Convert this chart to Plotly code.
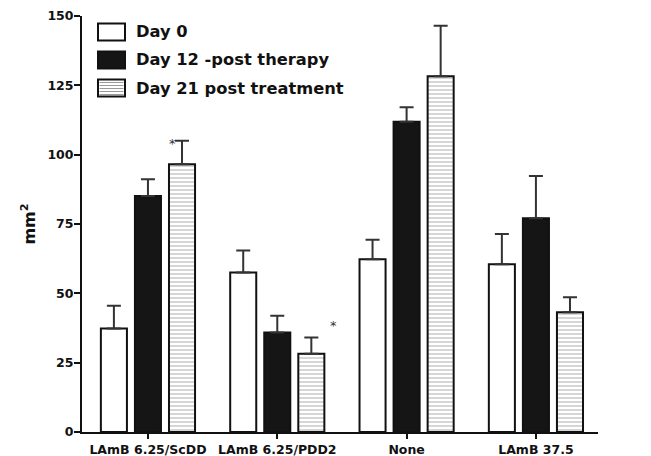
import plotly.graph_objects as go

categories = ["LAmB 6.25/ScDD", "LAmB 6.25/PDD2", "None", "LAmB 37.5"]
day0 = [37.3, 57.5, 62.3, 60.5]
day0_err = [8.2, 7.9, 7.0, 10.9]
day12 = [85.1, 35.9, 111.9, 77.1]
day12_err = [6.0, 6.0, 5.2, 15.2]
day21 = [96.5, 28.2, 128.3, 43.2]
day21_err = [8.5, 5.9, 18.2, 5.4]
series_names = ["Day 0", "Day 12 -post therapy", "Day 21 post treatment"]
y_ticks = [0, 25, 50, 75, 100, 125, 150]
star_x = [0.186, 1.438]
star_y = [104.0, 38.5]

FONT = "DejaVu Sans, Arial, sans-serif"
W, H = 643, 448
L, R, T, B = 74, 53, 8, 24
PW, PH = W - L - R, H - T - B

def px(xp):
    return (xp - L) / PW

def py(yp):
    return (H - B - yp) / PH

def err(vals):
    return dict(type="data", array=vals, arrayminus=[0] * len(vals), symmetric=False,
                color="#333333", thickness=2, width=7)

fig = go.Figure()
fig.add_bar(name=series_names[0], x=categories, y=day0, error_y=err(day0_err),
            marker=dict(color="white", line=dict(color="#111111", width=2)))
fig.add_bar(name=series_names[1], x=categories, y=day12, error_y=err(day12_err),
            marker=dict(color="#151515", line=dict(color="#111111", width=2)))
fig.add_bar(name=series_names[2], x=categories, y=day21, error_y=err(day21_err),
            marker=dict(color="white", line=dict(color="#111111", width=2),
                        pattern=dict(shape="-", fgcolor="#999999", bgcolor="white",
                                     size=4, solidity=0.4)))

for sx, sy in zip(star_x, star_y):
    fig.add_annotation(x=sx, y=sy, text="*", showarrow=False, xref="x", yref="y",
                       font=dict(family=FONT, size=13, color="#333333"))

# custom legend (large swatches like the original)
row_centers = [24, 52, 80]
sw_x0, sw_x1, sw_h = 90, 117, 17
fills = ["white", "#151515", "white"]
for i, (name, yc) in enumerate(zip(series_names, row_centers)):
    y0, y1 = yc - sw_h / 2, yc + sw_h / 2
    fig.add_shape(type="rect", xref="paper", yref="paper",
                  x0=px(sw_x0), x1=px(sw_x1), y0=py(y1), y1=py(y0),
                  fillcolor=fills[i], line=dict(color="#111111", width=2), layer="above")
    if i == 2:
        yy = y0 + 3
        while yy < y1 - 1:
            fig.add_shape(type="line", xref="paper", yref="paper",
                          x0=px(sw_x0 + 1.5), x1=px(sw_x1 - 1.5), y0=py(yy), y1=py(yy),
                          line=dict(color="#999999", width=1), layer="above")
            yy += 3
    fig.add_annotation(xref="paper", yref="paper", x=px(126), y=py(yc),
                       xanchor="left", yanchor="middle", showarrow=False, text=name,
                       font=dict(family=FONT, size=16.3, color="#111111", weight="bold"))

fig.update_layout(
    width=W, height=H,
    margin=dict(l=L, r=R, t=T, b=B, autoexpand=False),
    paper_bgcolor="white", plot_bgcolor="white",
    barmode="group", bargap=0.21, bargroupgap=0.235,
    font=dict(family=FONT, color="#111111"),
    showlegend=False,
)
fig.update_xaxes(range=[-0.51, 3.48], showline=True, linecolor="#111111", linewidth=2,
                 ticks="outside", ticklen=5, tickwidth=2, tickcolor="#111111",
                 showgrid=False, zeroline=False,
                 tickfont=dict(family=FONT, size=12.5, color="#111111", weight="bold"))
fig.update_yaxes(range=[0, 150], tickvals=y_ticks, showline=True, linecolor="#111111",
                 linewidth=2, ticks="outside", ticklen=6, tickwidth=2, tickcolor="#111111",
                 showgrid=False, zeroline=False, ticklabelstandoff=-2,
                 tickfont=dict(family=FONT, size=12.5, color="#111111", weight="bold"),
                 title=dict(text="mm<sup>2</sup>", standoff=8,
                            font=dict(family=FONT, size=16, color="#111111", weight="bold")))

fig.write_html("out.html")
